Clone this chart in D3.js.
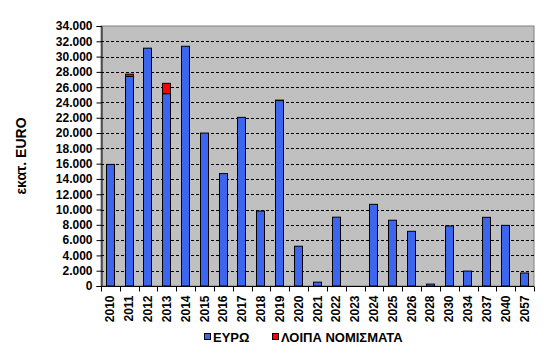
<!DOCTYPE html>
<html>
<head>
<meta charset="utf-8">
<script src="https://cdn.jsdelivr.net/npm/d3@7"></script>
<style>
  body { margin: 0; background: #fff; }
  text { font-family: "Liberation Sans", Arial, sans-serif; }
</style>
</head>
<body>
<svg id="chart" width="550" height="360"></svg>
<script>
const years = ["2010","2011","2012","2013","2014","2015","2016","2017","2018","2019","2020",
    "2021","2022","2023","2024","2025","2026","2028","2030","2034","2037","2040","2057"];
const euro = [15900, 27400, 31100, 25150, 31350, 20000, 14700, 22050, 9800, 24250, 5200,
    500, 9000, 0, 10680, 8600, 7150, 250, 7850, 1950, 8980, 7930, 1700];
const other = [0, 300, 0, 1350, 0, 0, 0, 0, 0, 60, 0,
    0, 0, 0, 0, 0, 0, 0, 0, 0, 0, 0, 0];
const yTicks = d3.range(0, 34001, 2000);
const seriesNames = ["ΕΥΡΩ", "ΛΟΙΠΑ ΝΟΜΙΣΜΑΤΑ"];
const colors = ["#3d66ee", "#ff0000"];

const margin = {top: 26, right: 16, bottom: 74, left: 101};
const width = 550, height = 360;
const innerW = width - margin.left - margin.right;
const innerH = height - margin.top - margin.bottom;

const svg = d3.select("#chart");
const g = svg.append("g").attr("transform", `translate(${margin.left},${margin.top})`);

const x = d3.scaleBand().domain(years).range([0, innerW]).paddingInner(0.5).paddingOuter(0.25);
const y = d3.scaleLinear().domain([0, 34000]).range([innerH, 0]);

// plot background
g.append("rect").attr("width", innerW).attr("height", innerH)
    .attr("fill", "#c0c0c0").attr("stroke", "#808080");

// gridlines
g.selectAll("line.grid").data(yTicks.filter(d => d > 0 && d < 34000)).enter()
    .append("line")
    .attr("x1", 0).attr("x2", innerW)
    .attr("y1", d => Math.round(y(d)) + 0.5).attr("y2", d => Math.round(y(d)) + 0.5)
    .attr("stroke", "#000").attr("stroke-dasharray", "3,2");

const rows = years.map((yr, i) => ({year: yr, euro: euro[i], other: other[i]}));
const stack = d3.stack().keys(["euro", "other"])(rows);

g.selectAll("g.series").data(stack).enter().append("g")
    .attr("fill", (d, i) => colors[i])
    .selectAll("rect").data(d => d.filter(v => v[1] - v[0] > 0)).enter()
    .append("rect")
    .attr("x", d => Math.round(x(d.data.year)) + 0.5)
    .attr("width", Math.round(x.bandwidth()) - 1)
    .attr("y", d => y(d[1]))
    .attr("height", d => y(d[0]) - y(d[1]))
    .attr("stroke", "#000").attr("stroke-width", 1);

// y axis
const yAxis = g.append("g").attr("transform", "translate(0.5,0)")
    .call(d3.axisLeft(y).tickValues(yTicks).tickSize(5).tickPadding(4)
        .tickFormat(d => d3.format(",")(d).replace(/,/g, ".")));
yAxis.select(".domain").attr("stroke", "#000");
yAxis.selectAll("text").attr("font-size", 12).attr("font-weight", "bold")
    .attr("font-family", "Liberation Sans, Arial, sans-serif").attr("fill", "#000");

// x axis, ticks between categories
const xAxis = g.append("g").attr("transform", `translate(0,${innerH + 0.5})`);
xAxis.append("line").attr("x1", 0).attr("x2", innerW).attr("stroke", "#000");
const step = x.step();
const edges = d3.range(years.length + 1).map(i => i * step);
xAxis.selectAll("line.tk").data(edges).enter().append("line")
    .attr("x1", d => Math.round(d) + 0.5).attr("x2", d => Math.round(d) + 0.5)
    .attr("y1", 0).attr("y2", 5).attr("stroke", "#000");
xAxis.selectAll("text").data(years).enter().append("text")
    .attr("transform", d => `translate(${x(d) + x.bandwidth() / 2 + 4},9) rotate(-90)`)
    .attr("text-anchor", "end")
    .attr("font-size", 12).attr("font-weight", "bold")
    .text(d => d);

// y label
svg.append("text")
    .attr("transform", `translate(26,156) rotate(-90)`)
    .attr("text-anchor", "middle")
    .attr("font-size", 14).attr("font-weight", "bold")
    .text("εκατ. EURO");

// legend
const legendX = [204, 272];
const legend = svg.append("g");
seriesNames.forEach((name, i) => {
    legend.append("rect").attr("x", legendX[i] + 0.5).attr("y", 333.5)
        .attr("width", 6).attr("height", 6)
        .attr("fill", colors[i]).attr("stroke", "#000");
    legend.append("text").attr("x", legendX[i] + 9).attr("y", 342)
        .attr("font-size", 13).attr("font-weight", "bold")
        .text(name);
});
</script>
</body>
</html>
